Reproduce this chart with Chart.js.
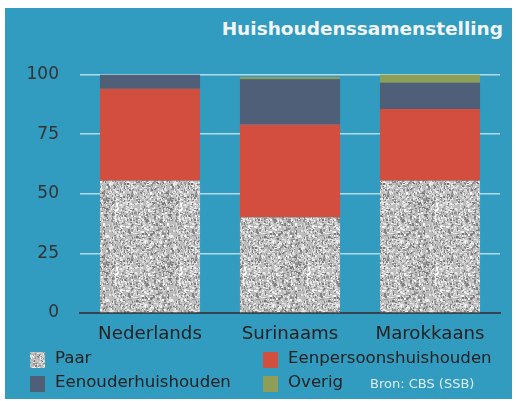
<!DOCTYPE html>
<html>
<head>
<meta charset="utf-8">
<script src="https://cdn.jsdelivr.net/npm/chart.js@4/dist/chart.umd.min.js"></script>
<style>
  body { margin: 0; background: #fff; width: 516px; height: 401px; overflow: hidden; }
  #panel { position: absolute; left: 5px; top: 8px; width: 507px; height: 391px; background: #329bc0; font-family: "DejaVu Sans", sans-serif; }
  #titel { position: absolute; right: 9px; top: 12px; font-size: 18.5px; line-height: 1; font-weight: bold; color: #f2f6f8; }
  #grafiek { position: absolute; left: 0; top: 52px; width: 507px; height: 290px; }
  .lg { position: absolute; font-size: 16.6px; line-height: 1; color: #222; white-space: nowrap; }
  .sw { position: absolute; width: 15px; height: 16px; }
  #bron { position: absolute; left: 365px; top: 369px; font-size: 13px; line-height: 1; color: #dceef5; }
</style>
</head>
<body>
<div id="panel">
  <div id="titel">Huishoudenssamenstelling</div>
  <div id="grafiek"><canvas id="huishChart"></canvas></div>
  <div id="legenda"></div>
  <div id="bron">Bron: CBS (SSB)</div>
</div>
<script>
// data (procenten)
const herkomst = ['Nederlands', 'Surinaams', 'Marokkaans'];
const paar = [55.5, 40, 55.5];
const eenpersoons = [38.5, 39, 30];
const eenouder = [6, 19, 11];
const overig = [0, 1, 3.5];
const yTicks = [0, 25, 50, 75, 100];

const kleuren = {
  eenpersoons: '#d24f3f',
  eenouder: '#4e5f77',
  overig: '#8e9e58'
};

// korrelig grijs patroon voor "Paar"
function maakKorrel() {
  const c = document.createElement('canvas');
  c.width = 64; c.height = 64;
  const g = c.getContext('2d');
  g.fillStyle = '#bcbcbc';
  g.fillRect(0, 0, 64, 64);
  let s = 20240611;
  const rnd = () => { s = (s * 1103515245 + 12345) & 0x7fffffff; return s / 0x7fffffff; };
  for (let i = 0; i < 1500; i++) {
    const x = Math.floor(rnd() * 64), y = Math.floor(rnd() * 64);
    const r = rnd();
    const v = r < 0.45 ? Math.round(115 + rnd() * 50) : Math.round(205 + rnd() * 45);
    g.fillStyle = `rgb(${v},${v},${v})`;
    g.fillRect(x, y, rnd() < 0.5 ? 1 : 2, rnd() < 0.5 ? 1 : 2);
  }
  return c;
}
const korrel = maakKorrel();
const ctx = document.getElementById('huishChart').getContext('2d');
const paarPatroon = ctx.createPattern(korrel, 'repeat');

// legenda (twee kolommen, zoals in het origineel)
const legendaItems = [
  { label: 'Paar', x: 25, y: 342, bg: 'url(' + korrel.toDataURL() + ')' },
  { label: 'Eenpersoonshuishouden', x: 258, y: 342, bg: kleuren.eenpersoons },
  { label: 'Eenouderhuishouden', x: 25, y: 365.5, bg: kleuren.eenouder },
  { label: 'Overig', x: 258, y: 365.5, bg: kleuren.overig }
];
const legenda = document.getElementById('legenda');
legendaItems.forEach(it => {
  legenda.innerHTML += `<div class="sw" style="left:${it.x}px;top:${it.y + 2}px;background:${it.bg}"></div>` +
    `<div class="lg" style="left:${it.x + 25}px;top:${it.y}px">${it.label}</div>`;
});

new Chart(ctx, {
  type: 'bar',
  data: {
    labels: herkomst,
    datasets: [
      { label: 'Paar', data: paar, backgroundColor: paarPatroon },
      { label: 'Eenpersoonshuishouden', data: eenpersoons, backgroundColor: kleuren.eenpersoons },
      { label: 'Eenouderhuishouden', data: eenouder, backgroundColor: kleuren.eenouder },
      { label: 'Overig', data: overig, backgroundColor: kleuren.overig }
    ]
  },
  options: {
    responsive: true,
    maintainAspectRatio: false,
    animation: false,
    datasets: { bar: { categoryPercentage: 1, barPercentage: 0.715, borderWidth: 0 } },
    layout: { padding: { top: 14.5, right: 12, bottom: 0, left: 0 } },
    plugins: { legend: { display: false }, tooltip: { enabled: false } },
    scales: {
      x: {
        stacked: true,
        grid: { display: false },
        border: { display: true, color: '#38434d', width: 2 },
        ticks: { color: '#222', padding: 2, font: { family: 'DejaVu Sans', size: 18.2 } },
        afterFit: s => { s.height = 37; }
      },
      y: {
        stacked: true,
        min: 0,
        max: 100,
        afterBuildTicks: s => { s.ticks = yTicks.map(v => ({ value: v })); },
        border: { display: false },
        grid: {
          drawTicks: false,
          lineWidth: 1.5,
          color: c => c.tick && c.tick.value === 0 ? '#38434d' : 'rgba(214,234,244,0.8)'
        },
        ticks: { color: '#333', padding: 21, font: { family: 'DejaVu Sans', size: 17 } },
        // vaste asbreedte; geen extra ruimte boven/onder voor de labels
        afterFit: s => { s.width = 75; s.paddingTop = 0; s.paddingBottom = 0; }
      }
    }
  }
});
</script>
</body>
</html>
